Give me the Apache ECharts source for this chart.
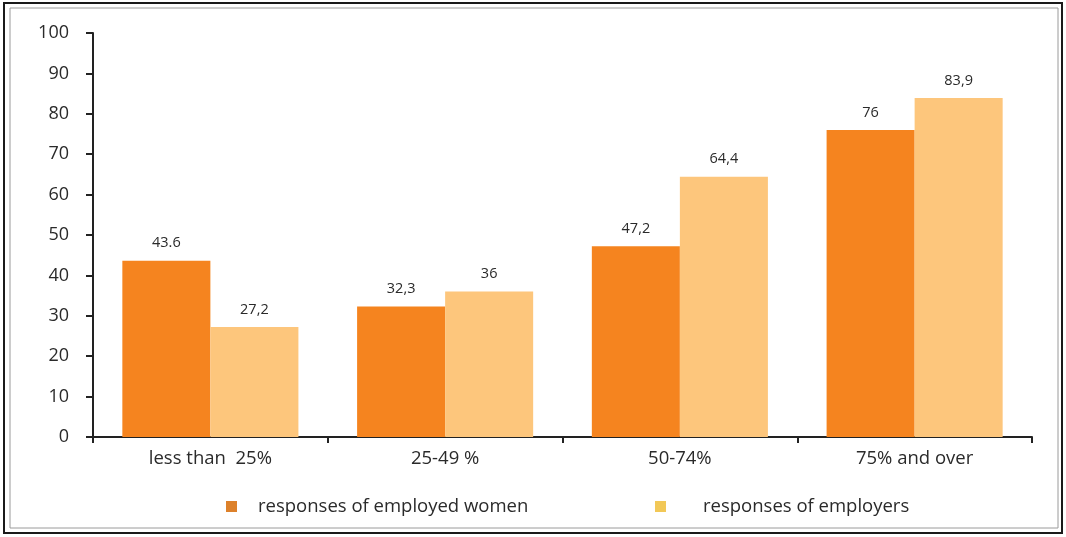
<!DOCTYPE html>
<html>
<head>
<meta charset="utf-8">
<script src="https://cdn.jsdelivr.net/npm/echarts@6/dist/echarts.min.js"></script>
<style>
html,body{margin:0;padding:0;background:#fff;}
#chart{width:1066px;height:537px;}
</style>
</head>
<body>
<div id="chart"></div>
<script>
const categories = ['less than  25%', '25-49 %', '50-74%', '75% and over'];
const seriesNames = ['responses of employed women', 'responses of employers'];
const womenValues = [43.6, 32.3, 47.2, 76];
const employerValues = [27.2, 36, 64.4, 83.9];
const womenLabels = ['43.6', '32,3', '47,2', '76'];
const employerLabels = ['27,2', '36', '64,4', '83,9'];
const yTicks = [0, 10, 20, 30, 40, 50, 60, 70, 80, 90, 100];

const FONT = '"Open Sans", "Noto Sans", sans-serif';
const chart = echarts.init(document.getElementById('chart'));
chart.setOption({
  backgroundColor: '#ffffff',
  animation: false,
  textStyle: { fontFamily: FONT },
  grid: { left: 93, right: 34, top: 33, bottom: 100 },
  legend: [
    {
      data: [{ name: seriesNames[0], itemStyle: { color: '#DD812B' } }],
      left: 221, top: 492,
      itemWidth: 11, itemHeight: 11, icon: 'rect',
      textStyle: { fontSize: 18.5, color: '#2a2a2a', fontFamily: FONT, padding: [0, 0, 0, 16] }
    },
    {
      data: [{ name: seriesNames[1], itemStyle: { color: '#F2C857' } }],
      left: 650, top: 492,
      itemWidth: 11, itemHeight: 11, icon: 'rect',
      textStyle: { fontSize: 18.5, color: '#2a2a2a', fontFamily: FONT, padding: [0, 0, 0, 32] }
    }
  ],
  xAxis: {
    type: 'category',
    data: categories,
    axisLine: { lineStyle: { color: '#222', width: 2 } },
    axisTick: { show: true, length: 6, lineStyle: { color: '#222', width: 2 } },
    axisLabel: { fontSize: 18.5, color: '#2a2a2a', margin: 12, fontFamily: FONT }
  },
  yAxis: {
    type: 'value',
    min: yTicks[0], max: yTicks[yTicks.length - 1], interval: 10,
    axisLine: { show: true, lineStyle: { color: '#222', width: 2 } },
    axisTick: { show: true, length: 7, lineStyle: { color: '#222', width: 2 } },
    splitLine: { show: false },
    axisLabel: { fontSize: 18, color: '#2a2a2a', margin: 24, fontFamily: FONT }
  },
  series: [
    {
      name: seriesNames[0], type: 'bar', data: womenValues,
      barGap: '0%', barCategoryGap: '25%',
      itemStyle: { color: '#F5841F' },
      label: { show: true, position: 'top', distance: 10, fontSize: 14.5, color: '#2a2a2a',
               fontFamily: FONT, formatter: p => womenLabels[p.dataIndex] }
    },
    {
      name: seriesNames[1], type: 'bar', data: employerValues,
      barGap: '0%', barCategoryGap: '25%',
      itemStyle: { color: '#FDC67C' },
      label: { show: true, position: 'top', distance: 10, fontSize: 14.5, color: '#2a2a2a',
               fontFamily: FONT, formatter: p => employerLabels[p.dataIndex] }
    }
  ],
  graphic: [
    { type: 'rect', shape: { x: 4, y: 3, width: 1058, height: 530 }, style: { fill: 'none', stroke: '#1a1a1a', lineWidth: 2 }, silent: true },
    { type: 'rect', shape: { x: 10, y: 8, width: 1048, height: 520 }, style: { fill: 'none', stroke: '#9a9a9a', lineWidth: 1 }, silent: true }
  ]
});
</script>
</body>
</html>
